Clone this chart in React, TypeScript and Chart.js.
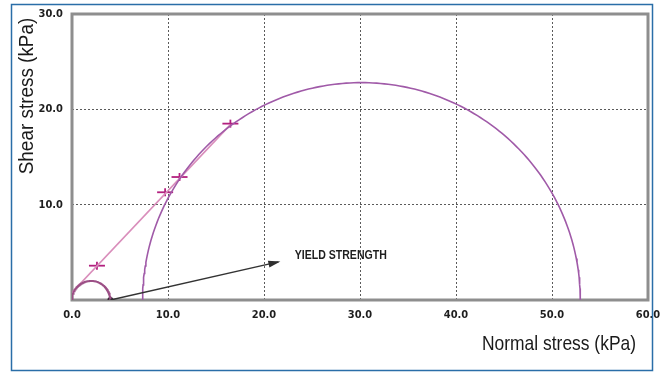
import React, { useEffect, useRef } from 'react';
import { Chart, registerables } from 'chart.js';

Chart.register(...registerables);

// Axis ranges / ticks
const xRange = [0, 60];
const yRange = [0, 30];
const tickStep = 10;

// Mohr circles (centre on normal-stress axis, radius)
const circleCenters = [2.0, 30.15];
const circleRadii = [2.0, 22.8];

// Failure envelope line
const envelopeX = [0, 16.5];
const envelopeY = [0.8, 18.4];

// Test points (markers)
const markerX = [2.6, 9.7, 11.2, 16.5];
const markerY = [3.6, 11.3, 12.9, 18.5];

// Yield strength arrow
const arrowX = [4.0, 21.5];
const arrowY = [0, 4.0];
const yieldPointX = [4.0];
const yieldPointY = [0];
const yieldLabel = 'YIELD STRENGTH';
const yieldLabelAt = [23.2, 4.6];

const xTitle = 'Normal stress (kPa)';
const yTitle = 'Shear stress (kPa)';

function semicircle(c: number, r: number) {
  const pts: { x: number; y: number }[] = [];
  const n = 180;
  for (let i = 0; i <= n; i++) {
    const a = Math.PI - (Math.PI * i) / n;
    pts.push({ x: c + r * Math.cos(a), y: r * Math.sin(a) });
  }
  return pts;
}

const zip = (xs: number[], ys: number[]) => xs.map((x, i) => ({ x, y: ys[i] }));

const FONT = '"Liberation Sans", Arial, sans-serif';

function condensedText(ctx: any, text: string, x: number, y: number, sx: number, align: string) {
  ctx.save();
  ctx.translate(x, y);
  ctx.scale(sx, 1);
  ctx.textAlign = align;
  ctx.fillText(text, 0, 0);
  ctx.restore();
}

const decor = {
  id: 'decor',
  beforeDraw(chart: any) {
    const { ctx, width, height } = chart;
    ctx.save();
    ctx.fillStyle = '#ffffff';
    ctx.fillRect(0, 0, width, height);
    ctx.restore();
  },
  beforeDatasetsDraw(chart: any) {
    const { ctx, chartArea: a } = chart;
    ctx.save();
    ctx.strokeStyle = '#8e8e8e';
    ctx.lineWidth = 3;
    ctx.strokeRect(a.left, a.top, a.right - a.left, a.bottom - a.top);
    ctx.restore();
  },
  afterDraw(chart: any) {
    const { ctx } = chart;
    const xs = chart.scales.x;
    const ys = chart.scales.y;
    ctx.save();
    // arrow head
    const x0 = xs.getPixelForValue(arrowX[0]);
    const y0 = ys.getPixelForValue(arrowY[0]);
    const x1 = xs.getPixelForValue(arrowX[1]);
    const y1 = ys.getPixelForValue(arrowY[1]);
    const ang = Math.atan2(y1 - y0, x1 - x0);
    const L = 10;
    const W = 3.5;
    ctx.fillStyle = '#2e2e2e';
    ctx.beginPath();
    ctx.moveTo(x1 + Math.cos(ang) * 2, y1 + Math.sin(ang) * 2);
    ctx.lineTo(x1 - Math.cos(ang) * L - Math.sin(ang) * W, y1 - Math.sin(ang) * L + Math.cos(ang) * W);
    ctx.lineTo(x1 - Math.cos(ang) * L + Math.sin(ang) * W, y1 - Math.sin(ang) * L - Math.cos(ang) * W);
    ctx.closePath();
    ctx.fill();

    // yield label
    ctx.fillStyle = '#1e1e1e';
    ctx.font = `bold 12px ${FONT}`;
    ctx.textBaseline = 'middle';
    condensedText(ctx, yieldLabel, xs.getPixelForValue(yieldLabelAt[0]), ys.getPixelForValue(yieldLabelAt[1]), 0.88, 'left');

    // axis titles
    ctx.fillStyle = '#1a1a1a';
    ctx.font = `21px ${FONT}`;
    ctx.textBaseline = 'middle';
    condensedText(ctx, xTitle, 636, 344, 0.83, 'right');

    ctx.save();
    ctx.translate(27, 96);
    ctx.rotate(-Math.PI / 2);
    ctx.font = `21px ${FONT}`;
    condensedText(ctx, yTitle, 0, 0, 0.9, 'center');
    ctx.restore();

    // outer blue frame
    ctx.strokeStyle = '#2a6ea8';
    ctx.lineWidth = 1.5;
    ctx.strokeRect(11.5, 4.5, 641, 366);
    ctx.restore();
  },
};

export default function App() {
  const ref = useRef<HTMLCanvasElement | null>(null);
  useEffect(() => {
    if (!ref.current) return;
    const tickFont = { family: '"DejaVu Sans Condensed", "Liberation Sans Narrow", "Liberation Sans", sans-serif', size: 11, weight: 'bold' };
    const chart = new Chart(ref.current, {
      type: 'scatter',
      data: {
        datasets: [
          {
            data: zip(arrowX, arrowY),
            showLine: true,
            borderColor: '#333333',
            borderWidth: 1.5,
            pointRadius: 0,
          },
          {
            data: semicircle(circleCenters[0], circleRadii[0]),
            showLine: true,
            borderColor: '#9c4f86',
            borderWidth: 2,
            pointRadius: 0,
          },
          {
            data: semicircle(circleCenters[1], circleRadii[1]),
            showLine: true,
            borderColor: '#a05aa8',
            borderWidth: 1.6,
            pointRadius: 0,
          },
          {
            data: zip(envelopeX, envelopeY),
            showLine: true,
            borderColor: '#d98ebb',
            borderWidth: 1.6,
            pointRadius: 0,
          },
          {
            data: zip(markerX, markerY),
            showLine: false,
            pointStyle: 'line',
            pointRadius: 8,
            borderColor: '#b3207f',
            borderWidth: 1.8,
          },
          {
            data: zip(markerX, markerY),
            showLine: false,
            pointStyle: 'line',
            rotation: 90,
            pointRadius: 4,
            borderColor: '#b3207f',
            borderWidth: 1.8,
          },
          {
            data: zip(yieldPointX, yieldPointY),
            showLine: false,
            pointStyle: 'circle',
            pointRadius: 3,
            backgroundColor: '#3a2a38',
            borderColor: '#3a2a38',
            borderWidth: 0,
          },
        ] as any,
      },
      options: {
        animation: false,
        responsive: false,
        events: [],
        layout: { padding: { top: 14, right: 13, left: 0, bottom: 0 } },
        plugins: { legend: { display: false }, tooltip: { enabled: false } },
        scales: {
          x: {
            type: 'linear',
            min: xRange[0],
            max: xRange[1],
            afterFit: (s: any) => { s.height = 74; s.paddingLeft = 0; s.paddingRight = 0; },
            ticks: {
              stepSize: tickStep,
              padding: 9,
              color: '#1e1e1e',
              font: tickFont,
              maxRotation: 0,
              callback: (v: any) => Number(v).toFixed(1),
            },
            grid: { color: '#5a5a5a', lineWidth: 1, drawTicks: false },
            border: { display: false, dash: [2, 2] },
          },
          y: {
            type: 'linear',
            min: yRange[0],
            max: yRange[1],
            afterFit: (s: any) => { s.width = 72; s.paddingTop = 0; s.paddingBottom = 0; },
            ticks: {
              stepSize: tickStep,
              padding: 9,
              color: '#1e1e1e',
              font: tickFont,
              callback: (v: any) => (Number(v) === 0 ? '' : Number(v).toFixed(1)),
            },
            grid: { color: '#5a5a5a', lineWidth: 1, drawTicks: false },
            border: { display: false, dash: [2, 2] },
          },
        },
      } as any,
      plugins: [decor],
    });
    return () => chart.destroy();
  }, []);
  return (
    <div style={{ position: 'absolute', left: 0, top: 0, width: 661, height: 374 }}>
      <canvas ref={ref} width={661} height={374} style={{ display: 'block' }} />
    </div>
  );
}
